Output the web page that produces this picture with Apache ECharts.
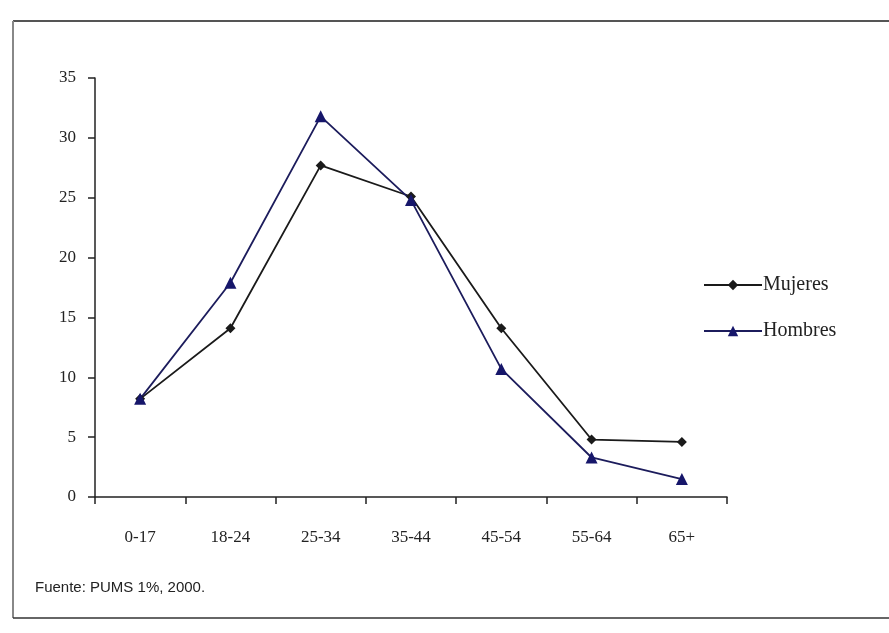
<!DOCTYPE html>
<html>
<head>
<meta charset="utf-8">
<script src="https://cdn.jsdelivr.net/npm/echarts@6/dist/echarts.min.js"></script>
<style>
html,body{margin:0;padding:0;background:#fff;}
#chart{width:889px;height:633px;}
</style>
</head>
<body>
<div id="chart"></div>
<script>
const categories = ['0-17','18-24','25-34','35-44','45-54','55-64','65+'];
const mujeres = [8.2, 14.1, 27.7, 25.1, 14.1, 4.8, 4.6];
const hombres = [8.2, 17.9, 31.8, 24.8, 10.7, 3.3, 1.5];
const yTicks = {min: 0, max: 35, interval: 5};
const sourceNote = 'Fuente: PUMS 1%, 2000.';

const serif = '"Liberation Serif", "DejaVu Serif", serif';
const chart = echarts.init(document.getElementById('chart'));
chart.setOption({
  animation: false,
  backgroundColor: '#fff',
  grid: {left: 95, right: 162, top: 78, bottom: 136, containLabel: false},
  legend: {
    orient: 'vertical',
    left: 698,
    top: 270,
    itemWidth: 58,
    itemHeight: 13,
    itemGap: 26,
    textStyle: {fontFamily: serif, fontSize: 20, color: '#222', padding: [0,0,0,-4]},
    data: ['Mujeres', 'Hombres']
  },
  xAxis: {
    type: 'category',
    data: categories,
    boundaryGap: true,
    axisLine: {lineStyle: {color: '#222', width: 1.5}},
    axisTick: {show: true, length: 7, lineStyle: {color: '#222', width: 1.5}},
    axisLabel: {fontFamily: serif, fontSize: 17, color: '#222', margin: 32}
  },
  yAxis: {
    type: 'value',
    min: yTicks.min, max: yTicks.max, interval: yTicks.interval,
    splitLine: {show: false},
    axisLine: {show: true, lineStyle: {color: '#222', width: 1.5}},
    axisTick: {show: true, length: 7, lineStyle: {color: '#222', width: 1.5}},
    axisLabel: {fontFamily: serif, fontSize: 17, color: '#222', margin: 19}
  },
  series: [
    {
      name: 'Mujeres', type: 'line', data: mujeres,
      symbol: 'diamond', symbolSize: 10,
      lineStyle: {color: '#1a1a1a', width: 1.8},
      itemStyle: {color: '#1a1a1a'}
    },
    {
      name: 'Hombres', type: 'line', data: hombres,
      symbol: 'triangle', symbolSize: 12,
      lineStyle: {color: '#1c1c5c', width: 1.8},
      itemStyle: {color: '#16166a'}
    }
  ],
  graphic: [
    {type: 'line', shape: {x1: 13, y1: 21, x2: 889, y2: 21}, style: {stroke: '#555', lineWidth: 2}},
    {type: 'line', shape: {x1: 13, y1: 21, x2: 13, y2: 618}, style: {stroke: '#888', lineWidth: 2}},
    {type: 'line', shape: {x1: 13, y1: 618, x2: 889, y2: 618}, style: {stroke: '#333', lineWidth: 1.5}},
    {type: 'text', left: 35, top: 580, style: {text: sourceNote, fontFamily: '"Liberation Sans", Arial, sans-serif', fontSize: 15, fill: '#222'}}
  ]
});
</script>
</body>
</html>
